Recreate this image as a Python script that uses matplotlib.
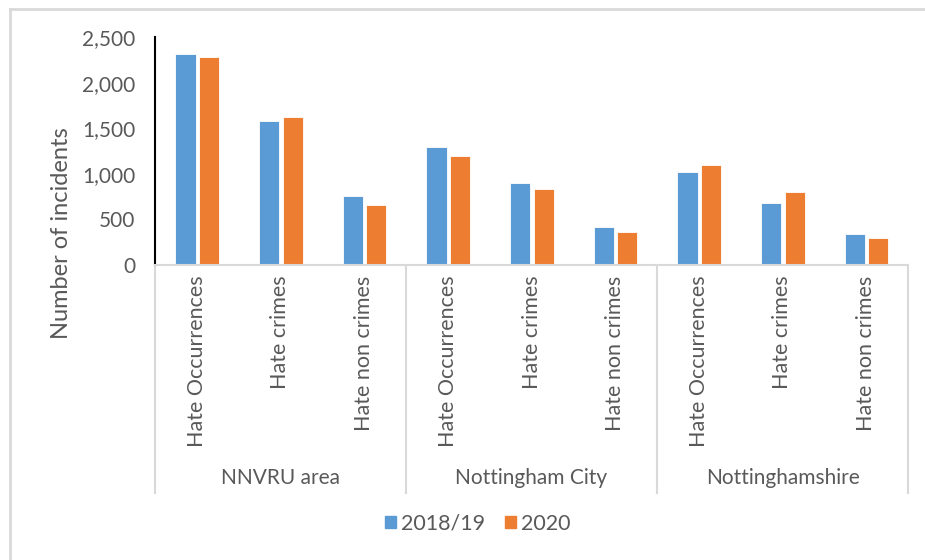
import matplotlib
matplotlib.use("Agg")
import matplotlib.pyplot as plt
from matplotlib.lines import Line2D
from matplotlib.patches import Patch
import numpy as np

plt.rcParams['font.family'] = ['Lato', 'DejaVu Sans']

groups = ['NNVRU area', 'Nottingham City', 'Nottinghamshire']
cats = ['Hate Occurrences', 'Hate crimes', 'Hate non crimes']
s2018 = [2315, 1575, 756, 1297, 895, 420, 1016, 676, 336]
s2020 = [2285, 1625, 661, 1190, 830, 365, 1093, 797, 296]
series_names = ['2018/19', '2020']
c_blue = '#5B9BD5'
c_orange = '#ED7D31'
txt = '#595959'
grey = '#D9D9D9'

fig = plt.figure(figsize=(9.25, 5.6), dpi=100)
ax = fig.add_axes([155/925, 1-265/560, 753/925, 228/560])

x = np.arange(len(s2018))
w = 0.24
ax.bar(x - 0.135, s2018, w, color=c_blue, edgecolor='white', linewidth=0.6)
ax.bar(x + 0.145, s2020, w, color=c_orange, edgecolor='white', linewidth=0.6)

ax.set_xlim(-0.5, len(x) - 0.5)
ax.set_ylim(0, 2500)
ax.set_yticks([0, 500, 1000, 1500, 2000, 2500])
ax.set_yticklabels(['{:,}'.format(v) for v in [0, 500, 1000, 1500, 2000, 2500]],
                   fontsize=15, color=txt)
ax.tick_params(axis='y', length=0, pad=14)
ax.set_xticks([])
for s in ['top', 'right']:
    ax.spines[s].set_visible(False)
ax.spines['left'].set_color('black')
ax.spines['left'].set_linewidth(1.5)
ax.spines['bottom'].set_color(grey)
ax.spines['bottom'].set_linewidth(1.5)
ax.set_ylabel('Number of incidents', fontsize=17, color=txt)
ax.yaxis.set_label_coords(-0.11, 0.14)

tr = ax.get_xaxis_transform()
# category labels
for i in range(len(x)):
    ax.text(x[i], -0.045, cats[i % 3], rotation=90, ha='center', va='top',
            fontsize=15.5, color=txt, transform=tr)
# group separators
for b in [-0.5, 2.5, 5.5, 8.5]:
    ax.plot([b, b], [0, -1.0], color=grey, lw=1.5, transform=tr, clip_on=False)
for g, name in enumerate(groups):
    ax.text(g * 3 + 1, -0.935, name, ha='center', va='center', fontsize=15,
            color=txt, transform=tr)

handles = [Patch(color=c_blue), Patch(color=c_orange)]
fig.legend(handles, series_names, loc='center', bbox_to_anchor=(478/925, 1-524/560),
           ncol=2, frameon=False, fontsize=15.5, labelcolor=txt, handlelength=0.5,
           handleheight=0.5, handletextpad=0.25, columnspacing=0.9)

# chart border
fig.add_artist(Line2D([10/925, 1], [1-9/560, 1-9/560], color=grey, lw=2))
fig.add_artist(Line2D([10/925, 10/925], [0, 1-9/560], color=grey, lw=2))

fig.savefig('out.png', dpi=100, facecolor='white')
